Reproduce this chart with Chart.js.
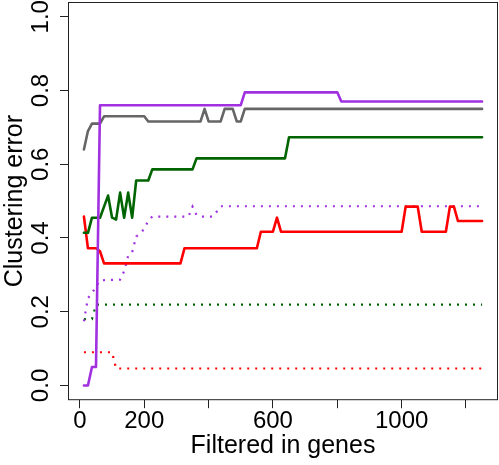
<!DOCTYPE html>
<html>
<head>
<meta charset="utf-8">
<script src="https://cdn.jsdelivr.net/npm/chart.js@4"></script>
<style>
  html, body { margin: 0; padding: 0; background: #fff; }
  #wrap { width: 499px; height: 465px; }
</style>
</head>
<body>
<div id="wrap"><canvas id="grafico"></canvas></div>
<script>
// Eixos
const xTickValues = [0, 200, 400, 600, 800, 1000, 1200];
const xTickLabels = ["0", "200", "", "600", "", "1000", ""];
const yTickValues = [0, 0.2, 0.4, 0.6, 0.8, 1.0];
const yTickLabels = ["0.0", "0.2", "0.4", "0.6", "0.8", "1.0"];

// Séries (pontos de quebra)
const purpleSolidX = [12.5, 25, 37.5, 50, 62.5, 500, 512.5, 800, 812.5, 1250];
const purpleSolidY = [0, 0, 0.05, 0.05, 0.76, 0.76, 0.795, 0.795, 0.77, 0.77];

const graySolidX = [12.5, 25, 37.5, 62.5, 75, 200, 212.5, 375, 387.5, 400, 437.5, 450, 475, 487.5, 500, 512.5, 1250];
const graySolidY = [0.64, 0.69, 0.71, 0.71, 0.73, 0.73, 0.716, 0.716, 0.75, 0.716, 0.716, 0.75, 0.75, 0.716, 0.716, 0.75, 0.75];

const greenSolidX = [12.5, 25, 37.5, 62.5, 87.5, 100, 112.5, 125, 137.5, 150, 162.5, 175, 212.5, 225, 350, 362.5, 637.5, 650, 1250];
const greenSolidY = [0.414, 0.414, 0.455, 0.455, 0.515, 0.455, 0.45, 0.523, 0.455, 0.523, 0.455, 0.556, 0.556, 0.586, 0.586, 0.616, 0.616, 0.673, 0.673];

const redSolidX = [12.5, 25, 50, 62.5, 75, 312.5, 325, 550, 562.5, 600, 612.5, 625, 1000, 1012.5, 1050, 1062.5, 1137.5, 1150, 1162.5, 1175, 1250];
const redSolidY = [0.458, 0.372, 0.372, 0.364, 0.331, 0.331, 0.372, 0.372, 0.417, 0.417, 0.455, 0.417, 0.417, 0.485, 0.485, 0.417, 0.417, 0.485, 0.485, 0.446, 0.446];

const purpleDotX = [12.5, 25, 37.5, 50, 62.5, 125, 137.5, 150, 162.5, 175, 187.5, 200, 212.5, 225, 337.5, 350, 362.5, 375, 412.5, 425, 437.5, 1250];
const purpleDotY = [0.174, 0.237, 0.25, 0.268, 0.285, 0.287, 0.31, 0.352, 0.362, 0.404, 0.412, 0.425, 0.447, 0.458, 0.458, 0.485, 0.462, 0.458, 0.458, 0.471, 0.486, 0.486];

const greenDotX = [12.5, 37.5, 50, 1250];
const greenDotY = [0.18, 0.18, 0.219, 0.219];

const redDotX = [12.5, 100, 112.5, 1250];
const redDotY = [0.09, 0.09, 0.046, 0.046];

function pontos(xs, ys) {
	return xs.map((x, i) => ({ x: x, y: ys[i] }));
}

const FONTE = "'Liberation Sans', Arial, Helvetica, sans-serif";
Chart.defaults.font.family = FONTE;
Chart.defaults.color = "#000";

function linha(xs, ys, cor) {
	return {
		data: pontos(xs, ys),
		borderColor: cor,
		borderWidth: 2.6,
		borderJoinStyle: "round",
		borderCapStyle: "round",
		pointRadius: 0,
		tension: 0,
	};
}

function pontilhado(xs, ys, cor) {
	return {
		data: pontos(xs, ys),
		borderColor: cor,
		borderWidth: 2.2,
		borderDash: [2, 6],
		borderCapStyle: "butt",
		pointRadius: 0,
		tension: 0,
	};
}

// Moldura e rótulos do eixo y (girados, como no R)
const moldura = {
	id: "moldura",
	afterDraw(chart) {
		const { ctx, chartArea } = chart;
		ctx.save();
		ctx.strokeStyle = "#222";
		ctx.lineWidth = 1;
		ctx.strokeRect(chartArea.left + 0.5, chartArea.top + 0.5, chartArea.right - chartArea.left - 1, chartArea.bottom - chartArea.top - 1);
		const escalaY = chart.scales.y;
		ctx.fillStyle = "#000";
		ctx.font = "24px " + FONTE;
		ctx.textAlign = "center";
		ctx.textBaseline = "middle";
		yTickValues.forEach((v, i) => {
			ctx.save();
			ctx.translate(chartArea.left - 26.5, escalaY.getPixelForValue(v));
			ctx.rotate(-Math.PI / 2);
			ctx.fillText(yTickLabels[i], 0, 0);
			ctx.restore();
		});
		ctx.restore();
	},
};

let grafico = new Chart(document.getElementById("grafico"), {
	type: "line",
	data: {
		datasets: [
			linha(purpleSolidX, purpleSolidY, "#A030E0"),
			linha(graySolidX, graySolidY, "#666666"),
			linha(greenSolidX, greenSolidY, "#006400"),
			linha(redSolidX, redSolidY, "#FF0000"),
			pontilhado(purpleDotX, purpleDotY, "#A030E0"),
			pontilhado(greenDotX, greenDotY, "#006400"),
			pontilhado(redDotX, redDotY, "#FF0000"),
		],
	},
	options: {
		responsive: true,
		maintainAspectRatio: false,
		animation: false,
		layout: { padding: { left: 0, right: 1, top: 2, bottom: 0 } },
		plugins: {
			legend: { display: false },
			tooltip: { enabled: false },
		},
		scales: {
			x: {
				type: "linear",
				min: -37,
				max: 1299.5,
				afterBuildTicks: (scale) => {
					scale.ticks = xTickValues.map((v) => ({ value: v }));
				},
				ticks: {
					autoSkip: false,
					maxRotation: 0,
					padding: 0.8,
					font: { size: 24, lineHeight: 1 },
					callback: (value) => {
						const i = xTickValues.indexOf(value);
						return i >= 0 ? xTickLabels[i] : "";
					},
				},
				grid: { drawOnChartArea: false, drawTicks: true, tickLength: 8, color: "#222" },
				border: { display: false },
				title: {
					display: true,
					text: "Filtered in genes",
					font: { size: 25, lineHeight: 1 },
					padding: { top: 0.2, bottom: 6 },
				},
			},
			y: {
				type: "linear",
				min: -0.04,
				max: 1.04,
				afterBuildTicks: (scale) => {
					scale.ticks = yTickValues.map((v) => ({ value: v }));
				},
				ticks: { display: false },
				grid: { drawOnChartArea: false, drawTicks: true, tickLength: 8, color: "#222" },
				border: { display: false },
				title: {
					display: true,
					text: "Clustering error",
					font: { size: 25, lineHeight: 1 },
					padding: { top: 2.8, bottom: 32.2 },
				},
			},
		},
	},
	plugins: [moldura],
});
</script>
</body>
</html>
